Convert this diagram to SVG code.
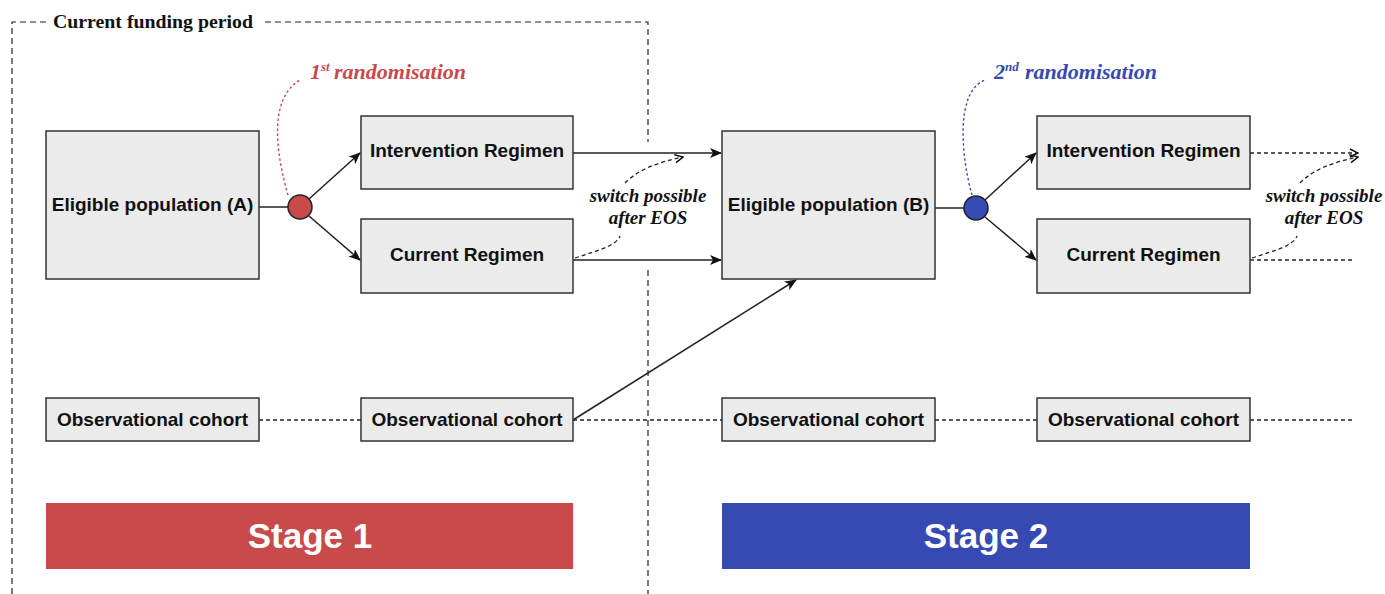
<svg xmlns="http://www.w3.org/2000/svg" width="1385" height="594" viewBox="0 0 1385 594">
<style>
.box{fill:#ebebeb;stroke:#333;stroke-width:1.5}
.lbl{font-family:"Liberation Sans",Arial,sans-serif;font-weight:bold;font-size:19px;fill:#111;text-anchor:middle}
.stage{font-family:"Liberation Sans",Arial,sans-serif;font-weight:bold;font-size:35px;fill:#fff;text-anchor:middle}
.ital{font-family:"Liberation Serif","DejaVu Serif",serif;font-style:italic;font-weight:bold}
.frame{fill:none;stroke:#222;stroke-width:1.2;stroke-dasharray:6 4}
.solid{fill:none;stroke:#222;stroke-width:1.5}
.dash{fill:none;stroke:#222;stroke-width:1.3;stroke-dasharray:4 3}
</style>
<defs>
<marker id="ah" viewBox="0 0 12 10" refX="11" refY="5" markerWidth="12" markerHeight="10" markerUnits="userSpaceOnUse" orient="auto">
<path d="M0,0 L12,5 L0,10 L3,5 z" fill="#111"/>
</marker>
<marker id="oa" viewBox="0 0 10 10" refX="9" refY="5" markerWidth="10" markerHeight="10" markerUnits="userSpaceOnUse" orient="auto">
<path d="M1,1 L9,5 L1,9" fill="none" stroke="#111" stroke-width="1.5"/>
</marker>
</defs>

<g id="frame">
<path class="frame" d="M12 594 L12 22 L46 22"/>
<path class="frame" d="M265 22 L648 22 L648 142"/>
<path class="frame" d="M648 270 L648 594"/>
<text x="53" y="28" font-family="'Liberation Serif','DejaVu Serif',serif" font-weight="bold" font-size="19" fill="#111" textLength="200" lengthAdjust="spacingAndGlyphs">Current funding period</text>
</g>

<g id="connectors">
<line class="solid" x1="259" y1="207" x2="288" y2="207"/>
<line class="solid" x1="309" y1="199" x2="360" y2="153" marker-end="url(#ah)"/>
<line class="solid" x1="309" y1="216" x2="360" y2="260" marker-end="url(#ah)"/>
<line class="solid" x1="573" y1="153" x2="721" y2="153" marker-end="url(#ah)"/>
<line class="solid" x1="573" y1="260" x2="721" y2="260" marker-end="url(#ah)"/>
<line class="solid" x1="573" y1="420" x2="796" y2="280" marker-end="url(#ah)"/>
<line class="solid" x1="935" y1="208" x2="964" y2="208"/>
<line class="solid" x1="985" y1="200" x2="1036" y2="153" marker-end="url(#ah)"/>
<line class="solid" x1="985" y1="217" x2="1036" y2="260" marker-end="url(#ah)"/>
<line class="dash" x1="1250" y1="153" x2="1358" y2="153" marker-end="url(#oa)"/>
<line class="dash" x1="1250" y1="260" x2="1352" y2="260"/>
<line class="dash" x1="259" y1="420" x2="361" y2="420"/>
<line class="dash" x1="573" y1="420" x2="722" y2="420"/>
<line class="dash" x1="935" y1="420" x2="1037" y2="420"/>
<line class="dash" x1="1250" y1="420" x2="1355" y2="420"/>
<path class="dash" d="M575 258 C600 250 617 245 620 236"/>
<path class="dash" d="M625 183 C640 168 660 162 683 157" marker-end="url(#oa)"/>
<path class="dash" d="M1252 258 C1277 250 1294 245 1297 236"/>
<path class="dash" d="M1300 183 C1315 168 1335 162 1358 157" marker-end="url(#oa)"/>
<path d="M288 195 C278 160 266 100 300 80" fill="none" stroke="#c84a4a" stroke-width="1.4" stroke-dasharray="2.5 2.5"/>
<path d="M972 195 C962 160 954 92 985 80" fill="none" stroke="#3749b3" stroke-width="1.4" stroke-dasharray="2.5 2.5"/>
</g>

<g id="eligA"><rect class="box" x="46" y="131" width="213" height="148"/><text class="lbl" x="152.5" y="211">Eligible population (A)</text></g>
<g id="rand1"><circle cx="300" cy="207" r="12" fill="#c84a4a" stroke="#222" stroke-width="1.5"/></g>
<g id="int1"><rect class="box" x="361" y="116" width="212" height="73"/><text class="lbl" x="467" y="157">Intervention Regimen</text></g>
<g id="cur1"><rect class="box" x="361" y="219" width="212" height="74"/><text class="lbl" x="467" y="261">Current Regimen</text></g>
<g id="eligB"><rect class="box" x="722" y="131" width="213" height="148"/><text class="lbl" x="828.5" y="211">Eligible population (B)</text></g>
<g id="rand2"><circle cx="976" cy="208" r="12" fill="#3749b3" stroke="#222" stroke-width="1.5"/></g>
<g id="int2"><rect class="box" x="1037" y="116" width="213" height="73"/><text class="lbl" x="1143.5" y="157">Intervention Regimen</text></g>
<g id="cur2"><rect class="box" x="1037" y="219" width="213" height="74"/><text class="lbl" x="1143.5" y="261">Current Regimen</text></g>

<g id="obs1"><rect class="box" x="46" y="398" width="213" height="43"/><text class="lbl" x="152.5" y="426">Observational cohort</text></g>
<g id="obs2"><rect class="box" x="361" y="398" width="212" height="43"/><text class="lbl" x="467" y="426">Observational cohort</text></g>
<g id="obs3"><rect class="box" x="722" y="398" width="213" height="43"/><text class="lbl" x="828.5" y="426">Observational cohort</text></g>
<g id="obs4"><rect class="box" x="1037" y="398" width="213" height="43"/><text class="lbl" x="1143.5" y="426">Observational cohort</text></g>

<g id="stage1"><rect x="46" y="503" width="527" height="66" fill="#c84a4a"/><text class="stage" x="310" y="548">Stage 1</text></g>
<g id="stage2"><rect x="722" y="503" width="528" height="66" fill="#3749b3"/><text class="stage" x="986" y="548">Stage 2</text></g>

<g id="label-rand1"><text class="ital" x="310" y="79" font-size="22" fill="#c84a4a">1<tspan dy="-8" font-size="13">st</tspan><tspan x="334" dy="8">randomisation</tspan></text></g>
<g id="label-rand2"><text class="ital" x="994" y="79" font-size="22" fill="#3749b3">2<tspan dy="-8" font-size="13">nd</tspan><tspan x="1025" dy="8">randomisation</tspan></text></g>
<g id="label-switch1"><text class="ital" font-size="19" fill="#111" text-anchor="middle"><tspan x="648" y="202">switch possible</tspan><tspan x="648" y="224">after EOS</tspan></text></g>
<g id="label-switch2"><text class="ital" font-size="19" fill="#111" text-anchor="middle"><tspan x="1324" y="202">switch possible</tspan><tspan x="1324" y="224">after EOS</tspan></text></g>
</svg>
